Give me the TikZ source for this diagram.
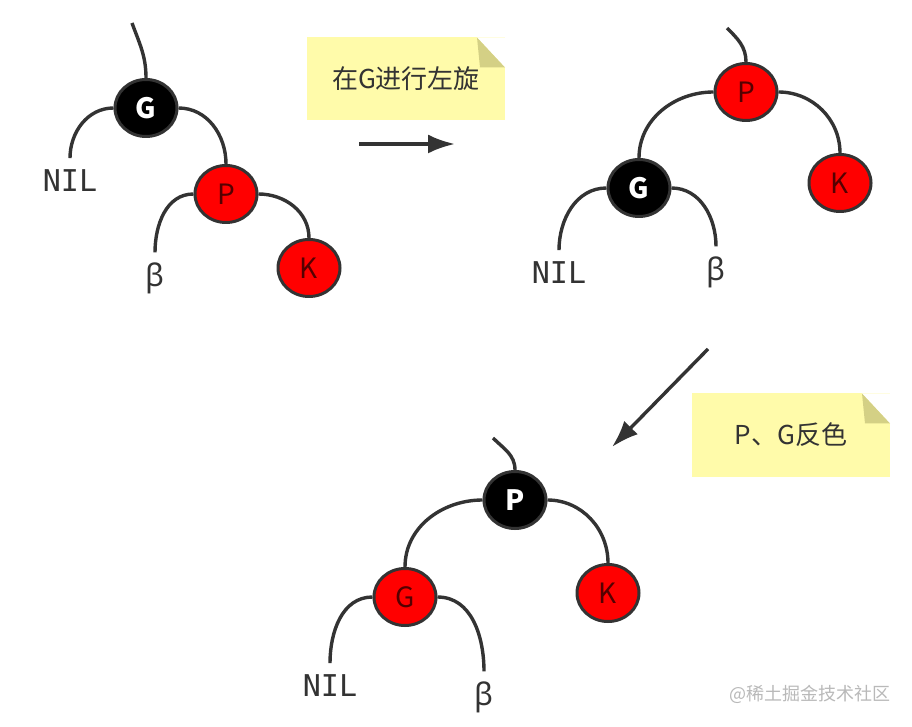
\documentclass[tikz,border=0pt]{standalone}
\usepackage{fontspec}
\newfontfamily\cjk{Noto Sans CJK SC}
\newfontfamily\nilfont{DejaVu Sans Mono}
\newfontfamily\greekfont{Noto Sans}
\usetikzlibrary{arrows.meta,shapes.geometric}
\definecolor{linegray}{HTML}{333333}
\definecolor{notefill}{HTML}{FFFBAA}
\definecolor{notefold}{HTML}{D4D085}
\definecolor{darkred}{HTML}{550000}
\definecolor{rbred}{HTML}{FF0000}
\tikzset{
  rbnode/.style={ellipse, draw=linegray, line width=3pt, minimum width=62pt,
    minimum height=57pt, inner sep=0pt, font=\cjk\fontsize{28}{28}\selectfont},
  blacknode/.style={rbnode, fill=black, text=white, font=\cjk\bfseries\fontsize{28}{28}\selectfont},
  rednode/.style={rbnode, fill=rbred, text=darkred},
  nilleaf/.style={inner sep=0pt, outer sep=12pt, text=linegray, font=\nilfont\fontsize{30}{30}\selectfont},
  betaleaf/.style={inner sep=0pt, outer sep=10pt, text=linegray, font=\greekfont\fontsize{31}{31}\selectfont},
  edge/.style={draw=linegray, line width=3.4pt},
  arr/.style={-{Latex[length=27pt,width=19pt]}, draw=linegray, line width=3.4pt},
  note/.style={fill=notefill, minimum width=198pt, minimum height=83pt, inner sep=0pt,
    text=linegray, font=\cjk\fontsize{26}{26}\selectfont,
    path picture={
      \fill[white] (path picture bounding box.north east) -- ++(-28pt,0pt) -- ++(28pt,-30pt) -- cycle;
      \fill[notefold] (path picture bounding box.north east) ++(-28pt,0pt) -- ++(28pt,-30pt) -- ++(-25pt,0pt) -- cycle;
    }}
}

\begin{document}
\begin{tikzpicture}[x=1pt, y=1pt]
  \fill[white] (0,0) rectangle (912,726);
  \useasboundingbox (0,0) rectangle (912,726);

  % tree before the rotation
  \node[blacknode] (G1) at (146,618) {G};
  \node[rednode] (P1) at (226,532) {P};
  \node[rednode] (K1) at (309,458) {K};
  \node[nilleaf] (nil1) at (70,545) {NIL};
  \node[betaleaf] (beta1) at (155,448) {β};
  \coordinate (top1) at (132,703);

  \draw[edge] (G1.north) to[out=90, in=-70] (top1);
  \draw[edge] (G1.west) to[out=180, in=90] (nil1.north);
  \draw[edge] (G1.east) to[out=0, in=90] (P1.north);
  \draw[edge] (P1.west) to[out=180, in=90] (beta1.north);
  \draw[edge] (P1.east) to[out=0, in=90] (K1.north);

  % first step
  \node[note] (note1) at (406,647) {在G进行左旋};
  \coordinate (arr1a) at (359,582);
  \coordinate (arr1b) at (455,582);
  \draw[arr] (arr1a) -- (arr1b);

  % tree after the left rotation at G
  \node[rednode] (P2) at (746,634) {P};
  \node[blacknode] (G2) at (639,538) {G};
  \node[rednode] (K2) at (840,543) {K};
  \node[nilleaf] (nil2) at (559,453) {NIL};
  \node[betaleaf] (beta2) at (716,454) {β};
  \coordinate (top2) at (727,698);

  \draw[edge] (P2.north) to[out=90, in=-45] (top2);
  \draw[edge] (P2.west) to[out=180, in=90] (G2.north);
  \draw[edge] (P2.east) to[out=0, in=90] (K2.north);
  \draw[edge] (G2.west) to[out=180, in=90] (nil2.north);
  \draw[edge] (G2.east) to[out=0, in=90] (beta2.north);

  % second step
  \node[note] (note2) at (791,291) {P、G反色};
  \coordinate (arr2a) at (708,377);
  \coordinate (arr2b) at (612,279);
  \draw[arr] (arr2a) -- (arr2b);

  % tree after recolouring
  \node[blacknode] (P3) at (515,226) {P};
  \node[rednode] (G3) at (405,129) {G};
  \node[rednode] (K3) at (608,133) {K};
  \node[nilleaf] (nil3) at (330,40) {NIL};
  \node[betaleaf] (beta3) at (484,29) {β};
  \coordinate (top3) at (493,288);

  \draw[edge] (P3.north) to[out=90, in=-45] (top3);
  \draw[edge] (P3.west) to[out=180, in=90] (G3.north);
  \draw[edge] (P3.east) to[out=0, in=90] (K3.north);
  \draw[edge] (G3.west) to[out=180, in=90] (nil3.north);
  \draw[edge] (G3.east) to[out=0, in=90] (beta3.north);

  \node[text=gray!55, font=\cjk\fontsize{18}{18}\selectfont] (mark) at (810,32) {@稀土掘金技术社区};
\end{tikzpicture}
\end{document}
